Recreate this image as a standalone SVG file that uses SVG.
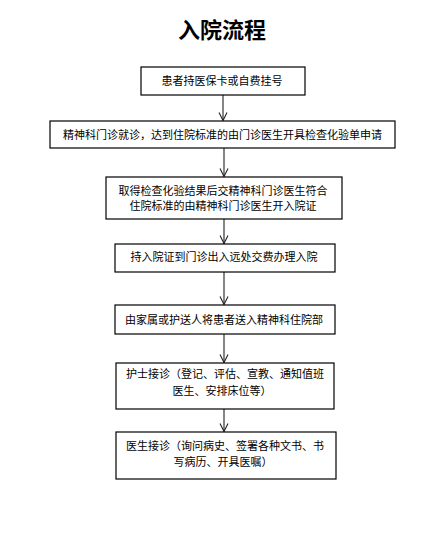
<svg xmlns="http://www.w3.org/2000/svg" width="445" height="535" viewBox="0 0 445 535">
<defs>
<marker id="arr" viewBox="0 0 10 10" refX="9" refY="5" markerWidth="10" markerHeight="10" markerUnits="userSpaceOnUse" orient="auto">
<path d="M1,1 L9,5 L1,9" fill="none" stroke="#222" stroke-width="1.1"/>
</marker>
</defs>
<style>
.box{fill:#fff;stroke:#000;stroke-width:1.2}
.t{font-family:"Noto Sans CJK SC","Noto Sans",sans-serif;font-size:11px;fill:#000;text-anchor:middle}
.title{font-family:"Noto Sans CJK SC",serif;font-size:22px;font-weight:bold;fill:#000;text-anchor:middle}
.c{stroke:#222;stroke-width:1.1;fill:none;marker-end:url(#arr)}
</style>
<rect width="445" height="535" fill="#fff"/>
<text class="title" x="222" y="38">入院流程</text>
<g id="connectors">
<line class="c" x1="223" y1="95" x2="223" y2="120.5"/>
<line class="c" x1="224" y1="148" x2="224" y2="176.5"/>
<line class="c" x1="224" y1="219" x2="224" y2="243.5"/>
<line class="c" x1="224" y1="272" x2="224" y2="304.5"/>
<line class="c" x1="224" y1="334" x2="224" y2="362.5"/>
<line class="c" x1="224" y1="409" x2="224" y2="431.5"/>
</g>
<g id="n1">
<rect class="box" x="141" y="67" width="164" height="28"/>
<text class="t" x="222" y="85">患者持医保卡或自费挂号</text>
</g>
<g id="n2">
<rect class="box" x="50" y="121" width="345" height="27"/>
<text class="t" x="222.5" y="138.5">精神科门诊就诊，达到住院标准的由门诊医生开具检查化验单申请</text>
</g>
<g id="n3">
<rect class="box" x="106" y="177" width="236" height="42"/>
<text class="t" x="223" y="195">取得检查化验结果后交精神科门诊医生符合</text>
<text class="t" x="223" y="210">住院标准的由精神科门诊医生开入院证</text>
</g>
<g id="n4">
<rect class="box" x="115" y="244" width="220" height="28"/>
<text class="t" x="224" y="261">持入院证到门诊出入远处交费办理入院</text>
</g>
<g id="n5">
<rect class="box" x="115" y="305" width="220" height="29"/>
<text class="t" x="224" y="323.5">由家属或护送人将患者送入精神科住院部</text>
</g>
<g id="n6">
<rect class="box" x="116" y="363" width="218" height="46"/>
<text class="t" x="225" y="378">护士接诊（登记、评估、宣教、通知值班</text>
<text class="t" x="222" y="395">医生、安排床位等）</text>
</g>
<g id="n7">
<rect class="box" x="116" y="432" width="220" height="47"/>
<text class="t" x="225" y="449.5">医生接诊（询问病史、签署各种文书、书</text>
<text class="t" x="223" y="466">写病历、开具医嘱）</text>
</g>
</svg>
